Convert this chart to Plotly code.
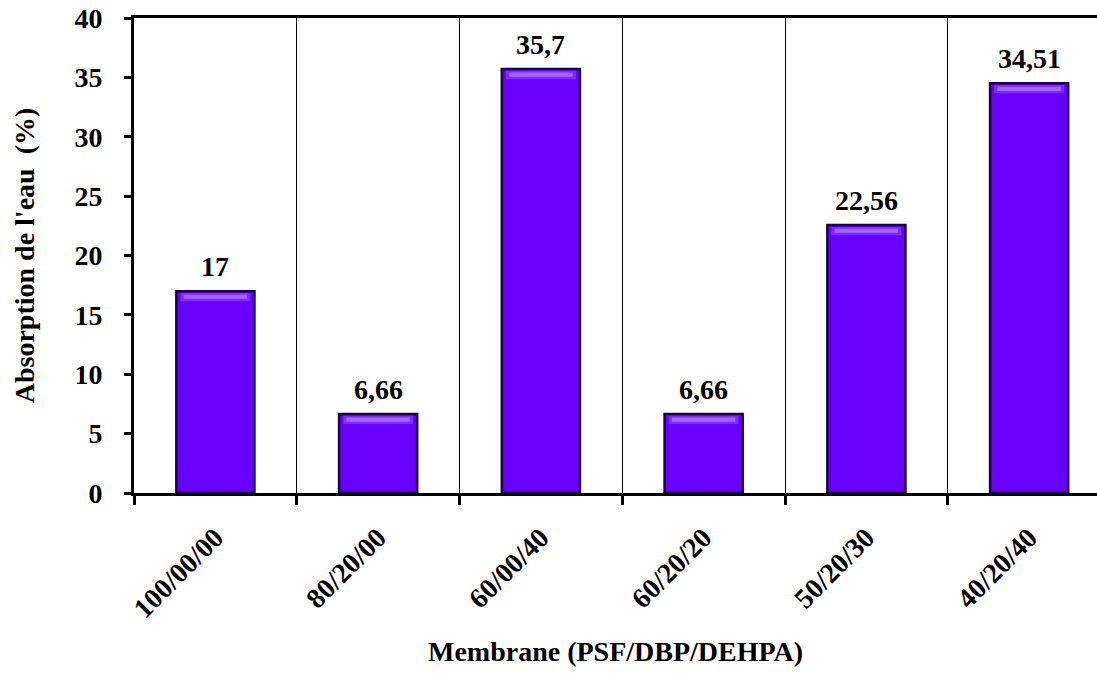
import plotly.graph_objects as go

membranes = ["100/00/00", "80/20/00", "60/00/40", "60/20/20", "50/20/30", "40/20/40"]
absorption = [17, 6.66, 35.7, 6.66, 22.56, 34.51]
labels = ["17", "6,66", "35,7", "6,66", "22,56", "34,51"]

positions = list(range(len(membranes)))
font_family = "Liberation Serif, Times New Roman, serif"
bold = dict(family=font_family, size=28, color="black", weight="bold")

fig = go.Figure()

# main bars
fig.add_trace(go.Bar(
    x=positions, y=absorption, width=0.48,
    marker=dict(color="#6800ff", line=dict(color="#1a0040", width=2.5)),
    hoverinfo="skip",
))

# bevel highlight just under the top edge of each bar
fig.add_trace(go.Bar(
    x=positions, y=[0.7] * len(absorption),
    base=[v - 0.85 for v in absorption], width=0.43,
    marker=dict(color="#7e2bff", line=dict(width=0)),
    hoverinfo="skip",
))
fig.add_trace(go.Bar(
    x=positions, y=[0.35] * len(absorption),
    base=[v - 0.65 for v in absorption], width=0.39,
    marker=dict(color="#a466ff", line=dict(width=0)),
    hoverinfo="skip",
))

# value labels above the bars
for xp, v, lab in zip(positions, absorption, labels):
    fig.add_annotation(x=xp, y=v, text=lab, showarrow=False,
                       yanchor="bottom", yshift=7, font=bold)

fig.update_layout(
    width=1097, height=695,
    margin=dict(l=134, r=0, t=18, b=202, autoexpand=False),
    paper_bgcolor="white", plot_bgcolor="white",
    barmode="overlay", showlegend=False,
    font=dict(family=font_family, size=28, color="black"),
)

# the last category runs past the right edge of the figure
fig.update_xaxes(
    range=[-0.5, 5.417],
    tickmode="array", tickvals=positions, ticktext=membranes,
    tickangle=-45, ticks="", showgrid=False,
    tickfont=bold, ticklabelstandoff=14,
    showline=True, linecolor="black", linewidth=3, mirror=True,
    minor=dict(tickmode="linear", tick0=-0.5, dtick=1, ticks="outside",
               ticklen=9, tickwidth=3, tickcolor="black",
               showgrid=True, gridcolor="black", gridwidth=1),
    title=dict(text="<b>Membrane (PSF/DBP/DEHPA)</b>", standoff=19,
               font=dict(family=font_family, size=28, color="black")),
    zeroline=False,
)

fig.update_yaxes(
    range=[0, 40], tickvals=list(range(0, 41, 5)),
    ticks="outside", ticklen=7, tickwidth=3, tickcolor="black",
    tickfont=bold, ticklabelstandoff=16,
    showline=True, linecolor="black", linewidth=3, mirror=False,
    showgrid=False, zeroline=False,
    title=dict(text="<b>Absorption de l'eau  (%)</b>", standoff=32,
               font=dict(family=font_family, size=28, color="black")),
)

fig.write_html("out.html")
